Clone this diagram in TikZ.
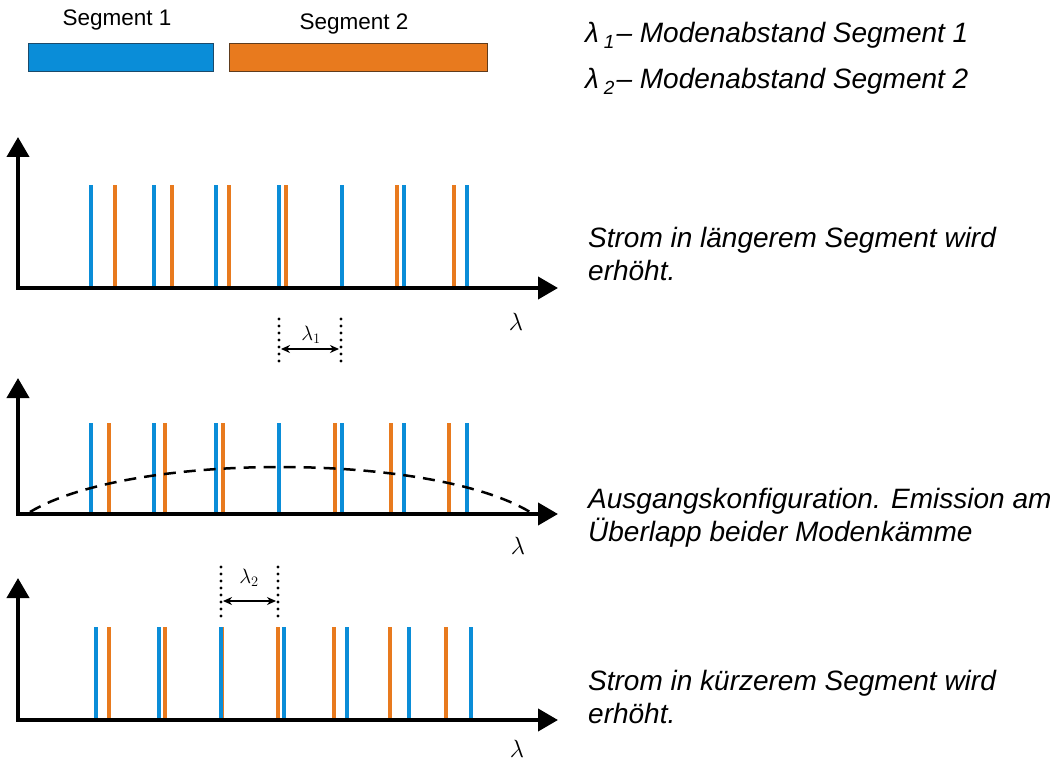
\documentclass[tikz,border=0pt]{standalone}
\usepackage{fontspec}
\setmainfont{Liberation Sans}
\usetikzlibrary{arrows.meta}
\definecolor{segblue}{HTML}{0A8DD8}
\definecolor{segorange}{HTML}{E87A1E}
\definecolor{blueedge}{HTML}{1C4A6A}
\definecolor{orangeedge}{HTML}{5E3C1E}
\begin{document}
\begin{tikzpicture}[x=1pt,y=-1pt,
  axis/.style={line width=4pt, line join=miter,
    {Triangle[length=20pt,width=22pt]}-{Triangle[length=20pt,width=22pt]}},
  bmode/.style={segblue, line width=4pt},
  omode/.style={segorange, line width=4pt},
  marker/.style={line width=3.2pt, dash pattern=on 0pt off 7pt, line cap=round},
  span/.style={{Stealth[length=9pt,width=8pt]}-{Stealth[length=9pt,width=8pt]}, line width=1.4pt},
  envelope/.style={line width=2.5pt, dash pattern=on 12pt off 8pt},
  note/.style={font=\fontsize{28}{33}\selectfont\itshape, anchor=base west, align=left, inner sep=0pt},
  seglabel/.style={font=\fontsize{22.5}{27}\selectfont, anchor=base, inner sep=0pt},
  axlabel/.style={font=\fontsize{27}{27}\selectfont, inner sep=0pt},
  spanlabel/.style={font=\fontsize{21}{21}\selectfont, inner sep=0pt}]
\useasboundingbox (0,0) rectangle (1060,762);

% segment bars
\node[seglabel] (s1) at (117,26) {Segment 1};
\node[seglabel] (s2) at (354,30) {Segment 2};
\filldraw[fill=segblue, draw=blueedge, line width=0.8pt] (28,43) rectangle (213,71);
\filldraw[fill=segorange, draw=orangeedge, line width=0.8pt] (229,43) rectangle (487,71);

% legend
\node[note] (l1) at (585,43) {λ\hspace{5pt}\raisebox{-6pt}{\fontsize{19}{19}\selectfont 1}\hspace{2pt}– Modenabstand Segment 1};
\node[note] (l2) at (585,89) {λ\hspace{5pt}\raisebox{-6pt}{\fontsize{19}{19}\selectfont 2}\hspace{2pt}– Modenabstand Segment 2};

% plot 1: current in the longer segment raised
\foreach \x in {115,172,229,286,342,397,454} \draw[omode] (\x,288) -- (\x,185);
\foreach \x in {91,154,216,279,342,404,467} \draw[bmode] (\x,288) -- (\x,185);
\draw[axis] (18,137) -- (18,288) -- (558,288);
\node[axlabel] (x1) at (516,322) {$\lambda$};
\node[note] (t1) at (588,280) {Strom in längerem Segment wird\\erhöht.};

% mode spacing of segment 1
\coordinate (a1) at (279,319);
\coordinate (a2) at (279,366);
\coordinate (b1) at (341,319);
\coordinate (b2) at (341,366);
\draw[marker] (a1) -- (a2);
\draw[marker] (b1) -- (b2);
\coordinate (p1) at (281,349);
\coordinate (q1) at (339,349);
\draw[span] (p1) -- (q1);
\node[spanlabel] (d1) at (311,335) {$\lambda_1$};

% plot 2: initial configuration
\foreach \x in {109,165,223,279,335,391,449} \draw[omode] (\x,514) -- (\x,423);
\foreach \x in {91,154,216,279,342,404,467} \draw[bmode] (\x,514) -- (\x,423);
\draw[envelope] (30,512) .. controls (130,452) and (430,452) .. (530,512);
\draw[axis] (18,378) -- (18,514) -- (558,514);
\node[axlabel] (x2) at (518,546) {$\lambda$};
\node[note] (t2) at (588,541) {Ausgangskonfiguration. Emission am\\Überlapp beider Modenkämme};

% mode spacing of segment 2
\coordinate (c1) at (221,567);
\coordinate (c2) at (221,622);
\coordinate (e1) at (278,567);
\coordinate (e2) at (278,622);
\draw[marker] (c1) -- (c2);
\draw[marker] (e1) -- (e2);
\coordinate (p2) at (223,601);
\coordinate (q2) at (276,601);
\draw[span] (p2) -- (q2);
\node[spanlabel] (d2) at (249,578) {$\lambda_2$};

% plot 3: current in the shorter segment raised
\foreach \x in {109,165,222,278,334,390,446} \draw[omode] (\x,720) -- (\x,627);
\foreach \x in {96,159,221,284,347,409,471} \draw[bmode] (\x,720) -- (\x,627);
\draw[axis] (18,578) -- (18,720) -- (558,720);
\node[axlabel] (x3) at (517,749) {$\lambda$};
\node[note] (t3) at (588,723) {Strom in kürzerem Segment wird\\erhöht.};
\end{tikzpicture}
\end{document}
